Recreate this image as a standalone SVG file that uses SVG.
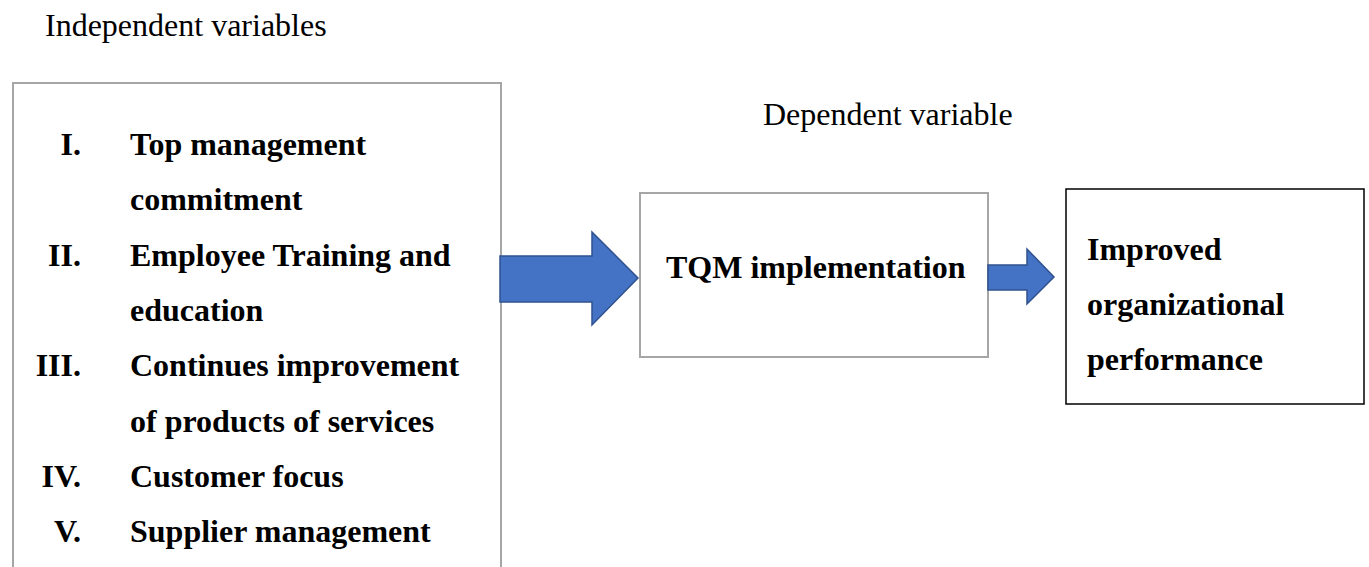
<svg xmlns="http://www.w3.org/2000/svg" width="1369" height="567" viewBox="0 0 1369 567">
<style>
.lbl{font-family:"Liberation Serif","Times New Roman",serif;font-size:32px;fill:#000}
.b{font-weight:bold}
.num{text-anchor:end}
.gbox{fill:#fff;stroke:#a6a6a6;stroke-width:2}
.kbox{fill:#fff;stroke:#000;stroke-width:1.5}
.arr{fill:#4472c4;stroke:#2f528f;stroke-width:1.5}
</style>
<rect width="1369" height="567" fill="#fff"/>
<text class="lbl" x="45" y="36">Independent variables</text>
<text class="lbl" x="763" y="125">Dependent variable</text>
<g id="independent">
<rect class="gbox" x="13" y="83" width="488" height="500"/>
<text class="lbl b num" x="81" y="155">I.</text>
<text class="lbl b" x="130" y="155">Top management</text>
<text class="lbl b" x="130" y="210">commitment</text>
<text class="lbl b num" x="81" y="266">II.</text>
<text class="lbl b" x="130" y="266">Employee Training and</text>
<text class="lbl b" x="130" y="321">education</text>
<text class="lbl b num" x="81" y="376">III.</text>
<text class="lbl b" x="130" y="376">Continues improvement</text>
<text class="lbl b" x="130" y="432">of products of services</text>
<text class="lbl b num" x="81" y="487">IV.</text>
<text class="lbl b" x="130" y="487">Customer focus</text>
<text class="lbl b num" x="81" y="542">V.</text>
<text class="lbl b" x="130" y="542">Supplier management</text>
</g>
<g id="tqm">
<rect class="gbox" x="640" y="193" width="348" height="164"/>
<text class="lbl b" x="666" y="278">TQM implementation</text>
</g>
<g id="performance">
<rect class="kbox" x="1066" y="189" width="298" height="215"/>
<text class="lbl b" x="1087" y="260">Improved</text>
<text class="lbl b" x="1087" y="315">organizational</text>
<text class="lbl b" x="1087" y="370">performance</text>
</g>
<g id="connectors">
<polygon class="arr" points="500,256 592,256 592,232 638,278 592,325 592,302 500,302"/>
<polygon class="arr" points="988,265 1027,265 1027,249 1054,277 1027,304 1027,290 988,290"/>
</g>
</svg>
